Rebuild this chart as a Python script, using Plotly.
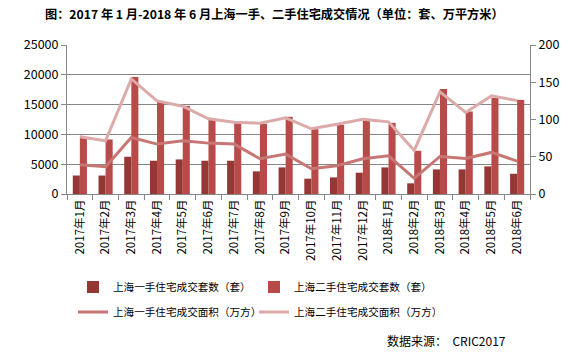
import plotly.graph_objects as go

months = ["2017年1月", "2017年2月", "2017年3月", "2017年4月", "2017年5月", "2017年6月",
          "2017年7月", "2017年8月", "2017年9月", "2017年10月", "2017年11月", "2017年12月",
          "2018年1月", "2018年2月", "2018年3月", "2018年4月", "2018年5月", "2018年6月"]
new_units = [3100, 3100, 6250, 5580, 5800, 5580, 5580, 3800, 4460, 2570, 2790, 3570,
             4460, 1790, 4130, 4130, 4630, 3400]
used_units = [9400, 9150, 19640, 15460, 14790, 12500, 11890, 11780, 12950, 10880, 11600, 12500,
              11940, 7250, 17630, 13840, 16130, 15790]
new_area = [39.3, 36.6, 75.9, 67.0, 71.4, 68.3, 67.0, 47.3, 53.6, 33.9, 37.9, 47.3,
            51.3, 21.0, 50.4, 47.8, 55.8, 44.2]
used_area = [76.8, 71.4, 154.5, 125.0, 117.9, 100.9, 96.4, 95.1, 102.2, 87.5, 93.75, 100.4,
             96.9, 58.5, 137.0, 109.4, 131.7, 125.4]

names = ["上海一手住宅成交套数（套）", "上海二手住宅成交套数（套）",
         "上海一手住宅成交面积（万方）", "上海二手住宅成交面积（万方）"]
title_text = "图：2017 年 1 月-2018 年 6 月上海一手、二手住宅成交情况（单位：套、万平方米）"
source_text = "数据来源：  CRIC2017"

FONT = "Noto Sans CJK SC"
W, H = 575, 353
ML, MR, MT, MB = 67, 45, 45, 159

fig = go.Figure()
fig.add_trace(go.Bar(x=months, y=new_units, name=names[0], marker_color="#953735",
                     marker_line_width=0, legend="legend"))
fig.add_trace(go.Bar(x=months, y=used_units, name=names[1], marker_color="#B84B49",
                     marker_line_width=0, legend="legend"))
fig.add_trace(go.Scatter(x=months, y=new_area, name=names[2], mode="lines", yaxis="y2",
                         line=dict(color="#C87674", width=3), legend="legend2"))
fig.add_trace(go.Scatter(x=months, y=used_area, name=names[3], mode="lines", yaxis="y2",
                         line=dict(color="#DBAAA9", width=3), legend="legend2"))

ph = H - MT - MB
def py(px):
    return (H - MB - px) / ph

pw = W - ML - MR
def pxx(px):
    return (px - ML) / pw

leg_common = dict(orientation="h", xanchor="left", yanchor="middle",
                  font=dict(family=FONT, size=10.6, color="#000"), itemwidth=30,
                  entrywidth=136, bgcolor="rgba(0,0,0,0)", borderwidth=0)

fig.update_layout(
    width=W, height=H,
    margin=dict(l=ML, r=MR, t=MT, b=MB),
    paper_bgcolor="white", plot_bgcolor="white",
    font=dict(family=FONT, size=12, color="#000"),
    barmode="group", bargap=0.45, bargroupgap=0,
    title=dict(text=title_text, x=45 / W, xanchor="left", xref="container", y=1 - 15 / H,
               yanchor="middle", pad=dict(l=0, r=0, t=0, b=0),
               font=dict(family=FONT, size=12.2, color="#000", weight="bold")),
    xaxis=dict(type="category", showline=True, linecolor="#868686", linewidth=1,
               ticks="outside", ticklen=5, tickcolor="#868686", tickson="boundaries",
               tickangle=-90, tickfont=dict(size=11.5), showgrid=False),
    yaxis=dict(range=[0, 25000], dtick=5000, tickformat="d", showline=True, linecolor="#868686",
               ticks="outside", ticklen=5, tickcolor="#868686", gridcolor="#868686",
               gridwidth=1, tickfont=dict(size=12.5), zeroline=False),
    yaxis2=dict(range=[0, 200], dtick=50, tickformat="d", overlaying="y", side="right", showline=True,
                linecolor="#868686", ticks="outside", ticklen=5, tickcolor="#868686",
                showgrid=False, tickfont=dict(size=12.5), zeroline=False),
    legend=dict(x=pxx(73), y=py(287), **leg_common),
    legend2=dict(x=pxx(73), y=py(312), **leg_common),
    showlegend=True,
)

fig.add_annotation(text=source_text, xref="paper", yref="paper", x=pxx(508), y=py(340),
                   xanchor="right", yanchor="middle", showarrow=False,
                   font=dict(family=FONT, size=12, color="#000"))

fig.write_html("out.html")
